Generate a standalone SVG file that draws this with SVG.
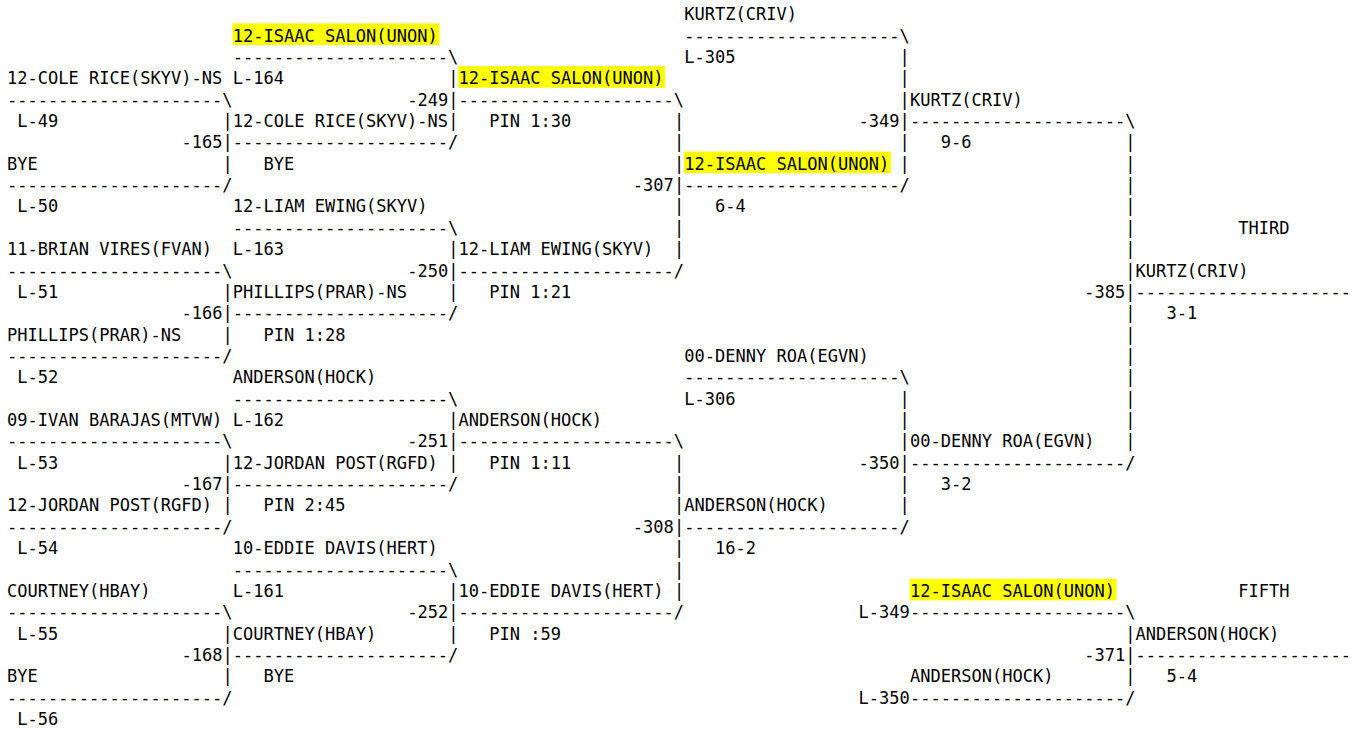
<svg xmlns="http://www.w3.org/2000/svg" width="1356" height="729" viewBox="0 0 1356 729">
<style>
.t{font-family:"DejaVu Sans Mono","Liberation Mono",monospace;font-size:17.04px;fill:#000;white-space:pre}
.hl{fill:#ffff00}
</style>
<rect width="1356" height="729" fill="#fff"/>
<g id="connectors">
<text class="t" x="7" y="105.64">---------------------\</text>
<text class="t" x="7" y="191.08">---------------------/</text>
<text class="t" x="7" y="276.52">---------------------\</text>
<text class="t" x="7" y="361.96">---------------------/</text>
<text class="t" x="7" y="447.4">---------------------\</text>
<text class="t" x="7" y="532.84">---------------------/</text>
<text class="t" x="7" y="618.28">---------------------\</text>
<text class="t" x="7" y="703.72">---------------------/</text>
<text class="t" x="232.72" y="62.92">---------------------\</text>
<text class="t" x="232.72" y="148.36">---------------------/</text>
<text class="t" x="232.72" y="233.8">---------------------\</text>
<text class="t" x="232.72" y="319.24">---------------------/</text>
<text class="t" x="232.72" y="404.68">---------------------\</text>
<text class="t" x="232.72" y="490.12">---------------------/</text>
<text class="t" x="232.72" y="575.56">---------------------\</text>
<text class="t" x="232.72" y="661">---------------------/</text>
<text class="t" x="458.44" y="105.64">---------------------\</text>
<text class="t" x="458.44" y="276.52">---------------------/</text>
<text class="t" x="458.44" y="447.4">---------------------\</text>
<text class="t" x="458.44" y="618.28">---------------------/</text>
<text class="t" x="684.16" y="41.56">---------------------\</text>
<text class="t" x="684.16" y="191.08">---------------------/</text>
<text class="t" x="684.16" y="383.32">---------------------\</text>
<text class="t" x="684.16" y="532.84">---------------------/</text>
<text class="t" x="909.88" y="127">---------------------\</text>
<text class="t" x="909.88" y="468.76">---------------------/</text>
<text class="t" x="909.88" y="618.28">---------------------\</text>
<text class="t" x="909.88" y="703.72">---------------------/</text>
<text class="t" x="1135.6" y="297.88">---------------------</text>
<text class="t" x="1135.6" y="661">---------------------</text>
<text class="t"><tspan x="222.46" y="127">|</tspan><tspan x="222.46" y="148.36">|</tspan><tspan x="222.46" y="169.72">|</tspan><tspan x="222.46" y="297.88">|</tspan><tspan x="222.46" y="319.24">|</tspan><tspan x="222.46" y="340.6">|</tspan><tspan x="222.46" y="468.76">|</tspan><tspan x="222.46" y="490.12">|</tspan><tspan x="222.46" y="511.48">|</tspan><tspan x="222.46" y="639.64">|</tspan><tspan x="222.46" y="661">|</tspan><tspan x="222.46" y="682.36">|</tspan></text>
<text class="t"><tspan x="448.18" y="84.28">|</tspan><tspan x="448.18" y="105.64">|</tspan><tspan x="448.18" y="127">|</tspan><tspan x="448.18" y="255.16">|</tspan><tspan x="448.18" y="276.52">|</tspan><tspan x="448.18" y="297.88">|</tspan><tspan x="448.18" y="426.04">|</tspan><tspan x="448.18" y="447.4">|</tspan><tspan x="448.18" y="468.76">|</tspan><tspan x="448.18" y="596.92">|</tspan><tspan x="448.18" y="618.28">|</tspan><tspan x="448.18" y="639.64">|</tspan></text>
<text class="t"><tspan x="673.9" y="127">|</tspan><tspan x="673.9" y="148.36">|</tspan><tspan x="673.9" y="169.72">|</tspan><tspan x="673.9" y="191.08">|</tspan><tspan x="673.9" y="212.44">|</tspan><tspan x="673.9" y="233.8">|</tspan><tspan x="673.9" y="255.16">|</tspan><tspan x="673.9" y="468.76">|</tspan><tspan x="673.9" y="490.12">|</tspan><tspan x="673.9" y="511.48">|</tspan><tspan x="673.9" y="532.84">|</tspan><tspan x="673.9" y="554.2">|</tspan><tspan x="673.9" y="575.56">|</tspan><tspan x="673.9" y="596.92">|</tspan></text>
<text class="t"><tspan x="899.62" y="62.92">|</tspan><tspan x="899.62" y="84.28">|</tspan><tspan x="899.62" y="105.64">|</tspan><tspan x="899.62" y="127">|</tspan><tspan x="899.62" y="148.36">|</tspan><tspan x="899.62" y="169.72">|</tspan><tspan x="899.62" y="404.68">|</tspan><tspan x="899.62" y="426.04">|</tspan><tspan x="899.62" y="447.4">|</tspan><tspan x="899.62" y="468.76">|</tspan><tspan x="899.62" y="490.12">|</tspan><tspan x="899.62" y="511.48">|</tspan></text>
<text class="t"><tspan x="1125.34" y="148.36">|</tspan><tspan x="1125.34" y="169.72">|</tspan><tspan x="1125.34" y="191.08">|</tspan><tspan x="1125.34" y="212.44">|</tspan><tspan x="1125.34" y="233.8">|</tspan><tspan x="1125.34" y="255.16">|</tspan><tspan x="1125.34" y="276.52">|</tspan><tspan x="1125.34" y="297.88">|</tspan><tspan x="1125.34" y="319.24">|</tspan><tspan x="1125.34" y="340.6">|</tspan><tspan x="1125.34" y="361.96">|</tspan><tspan x="1125.34" y="383.32">|</tspan><tspan x="1125.34" y="404.68">|</tspan><tspan x="1125.34" y="426.04">|</tspan><tspan x="1125.34" y="447.4">|</tspan><tspan x="1125.34" y="639.64">|</tspan><tspan x="1125.34" y="661">|</tspan><tspan x="1125.34" y="682.36">|</tspan></text>
</g>
<g id="match-165">
<text class="t" x="7" y="84.28">12-COLE RICE(SKYV)-NS</text>
<text class="t" x="17.26" y="127">L-49</text>
<text class="t" x="181.42" y="148.36">-165</text>
<text class="t" x="7" y="169.72">BYE</text>
<text class="t" x="17.26" y="212.44">L-50</text>
<text class="t" x="232.72" y="127">12-COLE RICE(SKYV)-NS</text>
<text class="t" x="263.5" y="169.72">BYE</text>
</g>
<g id="match-166">
<text class="t" x="7" y="255.16">11-BRIAN VIRES(FVAN)</text>
<text class="t" x="17.26" y="297.88">L-51</text>
<text class="t" x="181.42" y="319.24">-166</text>
<text class="t" x="7" y="340.6">PHILLIPS(PRAR)-NS</text>
<text class="t" x="17.26" y="383.32">L-52</text>
<text class="t" x="232.72" y="297.88">PHILLIPS(PRAR)-NS</text>
<text class="t" x="263.5" y="340.6">PIN 1:28</text>
</g>
<g id="match-167">
<text class="t" x="7" y="426.04">09-IVAN BARAJAS(MTVW)</text>
<text class="t" x="17.26" y="468.76">L-53</text>
<text class="t" x="181.42" y="490.12">-167</text>
<text class="t" x="7" y="511.48">12-JORDAN POST(RGFD)</text>
<text class="t" x="17.26" y="554.2">L-54</text>
<text class="t" x="232.72" y="468.76">12-JORDAN POST(RGFD)</text>
<text class="t" x="263.5" y="511.48">PIN 2:45</text>
</g>
<g id="match-168">
<text class="t" x="7" y="596.92">COURTNEY(HBAY)</text>
<text class="t" x="17.26" y="639.64">L-55</text>
<text class="t" x="181.42" y="661">-168</text>
<text class="t" x="7" y="682.36">BYE</text>
<text class="t" x="17.26" y="725.08">L-56</text>
<text class="t" x="232.72" y="639.64">COURTNEY(HBAY)</text>
<text class="t" x="263.5" y="682.36">BYE</text>
</g>
<g id="match-249">
<rect class="hl" x="232.5" y="23.36" width="207" height="21.7"/>
<text class="t" x="232.72" y="41.56">12-ISAAC SALON(UNON)</text>
<text class="t" x="232.72" y="84.28">L-164</text>
<text class="t" x="407.14" y="105.64">-249</text>
<rect class="hl" x="458.2" y="66.08" width="207" height="21.7"/>
<text class="t" x="458.44" y="84.28">12-ISAAC SALON(UNON)</text>
<text class="t" x="489.22" y="127">PIN 1:30</text>
</g>
<g id="match-250">
<text class="t" x="232.72" y="212.44">12-LIAM EWING(SKYV)</text>
<text class="t" x="232.72" y="255.16">L-163</text>
<text class="t" x="407.14" y="276.52">-250</text>
<text class="t" x="458.44" y="255.16">12-LIAM EWING(SKYV)</text>
<text class="t" x="489.22" y="297.88">PIN 1:21</text>
</g>
<g id="match-251">
<text class="t" x="232.72" y="383.32">ANDERSON(HOCK)</text>
<text class="t" x="232.72" y="426.04">L-162</text>
<text class="t" x="407.14" y="447.4">-251</text>
<text class="t" x="458.44" y="426.04">ANDERSON(HOCK)</text>
<text class="t" x="489.22" y="468.76">PIN 1:11</text>
</g>
<g id="match-252">
<text class="t" x="232.72" y="554.2">10-EDDIE DAVIS(HERT)</text>
<text class="t" x="232.72" y="596.92">L-161</text>
<text class="t" x="407.14" y="618.28">-252</text>
<text class="t" x="458.44" y="596.92">10-EDDIE DAVIS(HERT)</text>
<text class="t" x="489.22" y="639.64">PIN :59</text>
</g>
<g id="match-307">
<text class="t" x="632.86" y="191.08">-307</text>
<rect class="hl" x="683.9" y="151.52" width="207" height="21.7"/>
<text class="t" x="684.16" y="169.72">12-ISAAC SALON(UNON)</text>
<text class="t" x="714.94" y="212.44">6-4</text>
</g>
<g id="match-308">
<text class="t" x="632.86" y="532.84">-308</text>
<text class="t" x="684.16" y="511.48">ANDERSON(HOCK)</text>
<text class="t" x="714.94" y="554.2">16-2</text>
</g>
<g id="match-349">
<text class="t" x="684.16" y="20.2">KURTZ(CRIV)</text>
<text class="t" x="684.16" y="62.92">L-305</text>
<text class="t" x="858.58" y="127">-349</text>
<text class="t" x="909.88" y="105.64">KURTZ(CRIV)</text>
<text class="t" x="940.66" y="148.36">9-6</text>
</g>
<g id="match-350">
<text class="t" x="684.16" y="361.96">00-DENNY ROA(EGVN)</text>
<text class="t" x="684.16" y="404.68">L-306</text>
<text class="t" x="858.58" y="468.76">-350</text>
<text class="t" x="909.88" y="447.4">00-DENNY ROA(EGVN)</text>
<text class="t" x="940.66" y="490.12">3-2</text>
</g>
<g id="match-385">
<text class="t" x="1238.2" y="233.8">THIRD</text>
<text class="t" x="1084.3" y="297.88">-385</text>
<text class="t" x="1135.6" y="276.52">KURTZ(CRIV)</text>
<text class="t" x="1166.38" y="319.24">3-1</text>
</g>
<g id="match-371">
<text class="t" x="1238.2" y="596.92">FIFTH</text>
<rect class="hl" x="909.6" y="578.72" width="207" height="21.7"/>
<text class="t" x="909.88" y="596.92">12-ISAAC SALON(UNON)</text>
<text class="t" x="858.58" y="618.28">L-349</text>
<text class="t" x="909.88" y="682.36">ANDERSON(HOCK)</text>
<text class="t" x="858.58" y="703.72">L-350</text>
<text class="t" x="1084.3" y="661">-371</text>
<text class="t" x="1135.6" y="639.64">ANDERSON(HOCK)</text>
<text class="t" x="1166.38" y="682.36">5-4</text>
</g>
</svg>
